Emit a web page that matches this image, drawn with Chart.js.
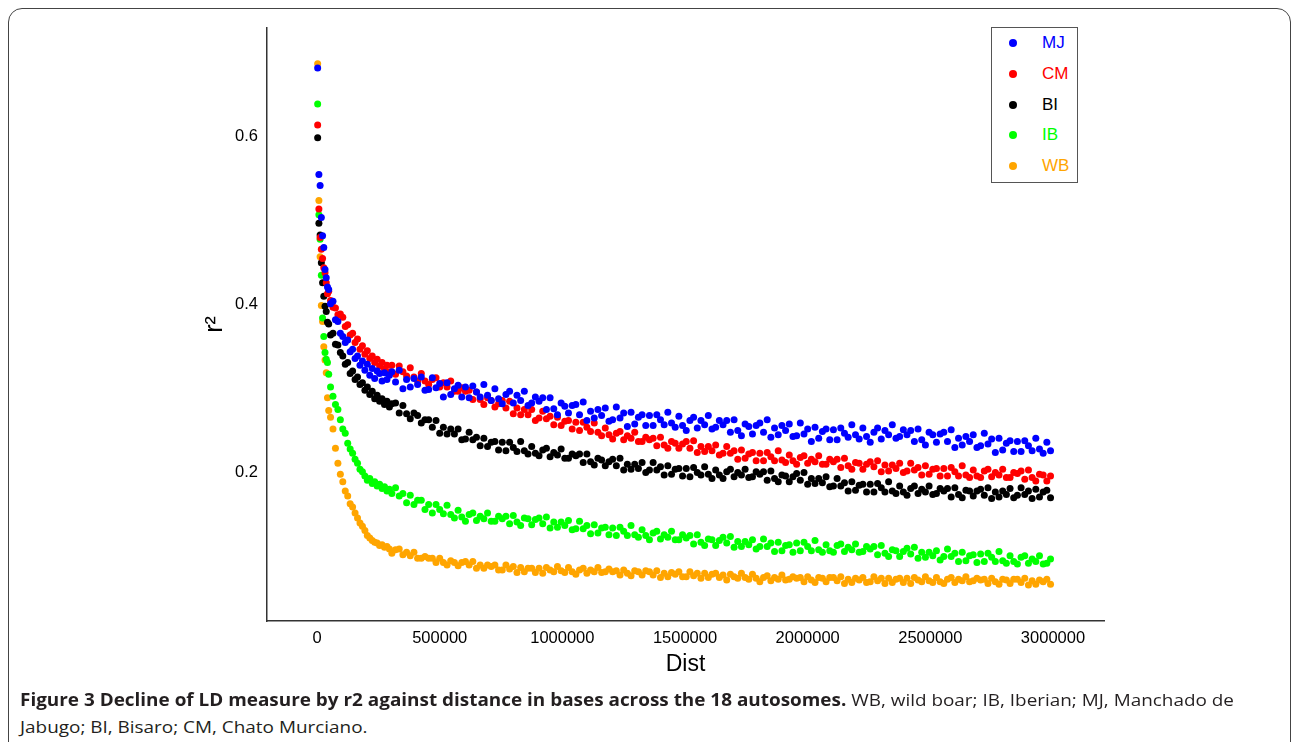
<!DOCTYPE html>
<html>
<head>
<meta charset="utf-8">
<title>Figure 3 - LD decay</title>
<script src="https://cdn.jsdelivr.net/npm/chart.js@4.4.1/dist/chart.umd.min.js"></script>
<style>
  html, body { margin: 0; padding: 0; background: #fff; }
  body { width: 1292px; height: 742px; position: relative; overflow: hidden; }
  #frame { position: absolute; left: 8px; top: 8px; width: 1283px; height: 790px;
           border: 1.5px solid #444; border-radius: 14px; box-sizing: border-box; }
  #plot { position: absolute; left: 0; top: 0; }
  #legend { position: absolute; left: 991px; top: 27px; width: 87px; height: 156px;
            border: 1.5px solid #555; box-sizing: border-box; background: #fff; }
  #legend .item { position: absolute; left: 0; height: 20px; width: 84px; }
  #legend .dot { position: absolute; left: 17px; top: 6px; width: 8px; height: 8px; border-radius: 50%; }
  #legend .lab { position: absolute; left: 50px; top: 0; line-height: 20px;
                 font: 17px "Liberation Sans", Arial, sans-serif; }
  .capline { position: absolute; left: 20px; white-space: nowrap; transform-origin: 0 0;
             font: 17px "Open Sans", sans-serif; color: #231f20; line-height: 26px; }
  .capline span { display: inline-block; }
</style>
</head>
<body>
<div id="frame"></div>
<canvas id="plot" width="1292" height="690"></canvas>
<div id="legend"></div>
<div class="capline" style="top:687px"><span id="cap1"><b>Figure 3 Decline of LD measure by r2 against distance in bases across the 18 autosomes.</b> WB, wild boar; IB, Iberian; MJ, Manchado de</span></div>
<div class="capline" style="top:714px"><span id="cap2">Jabugo; BI, Bisaro; CM, Chato Murciano.</span></div>
<script>
// Distancia en kb (bins)
const distKb = [
  2.5, 7.5, 12.5, 17.5, 22.5, 27.5, 32.5, 37.5, 42.5, 47.5,
  55, 65, 75, 85, 95, 105, 115, 125, 135, 145,
  155, 165, 175, 185, 195, 205, 215, 225, 235, 245,
  255, 265, 275, 285, 295,
  305, 320, 335, 350, 365, 380, 395, 410, 425, 440,
  455, 470, 485, 500, 515, 530, 545, 560, 575, 590,
  605, 620, 635, 650, 665, 680, 695, 710, 725, 740,
  755, 770, 785, 800, 815, 830, 845, 860, 875, 890,
  905, 920, 935, 950, 965, 980, 995, 1010, 1025, 1040,
  1055, 1070, 1085, 1100, 1115, 1130, 1145, 1160, 1175, 1190,
  1205, 1220, 1235, 1250, 1265, 1280, 1295, 1310, 1325, 1340,
  1355, 1370, 1385, 1400, 1415, 1430, 1445, 1460, 1475, 1490,
  1505, 1520, 1535, 1550, 1565, 1580, 1595, 1610, 1625, 1640,
  1655, 1670, 1685, 1700, 1715, 1730, 1745, 1760, 1775, 1790,
  1805, 1820, 1835, 1850, 1865, 1880, 1895, 1910, 1925, 1940,
  1955, 1970, 1985, 2000, 2015, 2030, 2045, 2060, 2075, 2090,
  2105, 2120, 2135, 2150, 2165, 2180, 2195, 2210, 2225, 2240,
  2255, 2270, 2285, 2300, 2315, 2330, 2345, 2360, 2375, 2390,
  2405, 2420, 2435, 2450, 2465, 2480, 2495, 2510, 2525, 2540,
  2555, 2570, 2585, 2600, 2615, 2630, 2645, 2660, 2675, 2690,
  2705, 2720, 2735, 2750, 2765, 2780, 2795, 2810, 2825, 2840,
  2855, 2870, 2885, 2900, 2915, 2930, 2945, 2960, 2975, 2990
];

// r2 por raza
const r2MJ = [
  0.682, 0.555, 0.542, 0.504, 0.482, 0.468, 0.442, 0.432, 0.421, 0.418,
  0.401, 0.404, 0.382, 0.380, 0.366, 0.362, 0.355, 0.358, 0.344, 0.347,
  0.336, 0.339, 0.328, 0.333, 0.322, 0.329, 0.316, 0.324, 0.312, 0.321,
  0.318, 0.309, 0.319, 0.311, 0.316,
  0.320, 0.308, 0.322, 0.300, 0.311, 0.302, 0.312, 0.305, 0.314, 0.298,
  0.299, 0.313, 0.301, 0.306, 0.290, 0.307, 0.293, 0.300, 0.304, 0.290,
  0.302, 0.289, 0.303, 0.296, 0.290, 0.305, 0.292, 0.286, 0.300, 0.288,
  0.282, 0.293, 0.297, 0.283, 0.292, 0.286, 0.297, 0.280, 0.283, 0.290,
  0.285, 0.289, 0.275, 0.289, 0.276, 0.269, 0.283, 0.279, 0.271, 0.280,
  0.281, 0.269, 0.284, 0.262, 0.273, 0.265, 0.275, 0.268, 0.277, 0.261,
  0.263, 0.278, 0.265, 0.271, 0.255, 0.272, 0.258, 0.266, 0.269, 0.256,
  0.268, 0.256, 0.269, 0.263, 0.257, 0.272, 0.259, 0.254, 0.267, 0.256,
  0.250, 0.262, 0.266, 0.253, 0.262, 0.257, 0.268, 0.252, 0.254, 0.262,
  0.257, 0.262, 0.248, 0.263, 0.250, 0.244, 0.258, 0.255, 0.246, 0.256,
  0.259, 0.248, 0.263, 0.242, 0.253, 0.245, 0.256, 0.250, 0.258, 0.243,
  0.244, 0.259, 0.246, 0.252, 0.237, 0.254, 0.241, 0.249, 0.252, 0.239,
  0.251, 0.239, 0.253, 0.247, 0.242, 0.257, 0.245, 0.240, 0.253, 0.243,
  0.236, 0.248, 0.253, 0.240, 0.250, 0.245, 0.257, 0.241, 0.243, 0.251,
  0.245, 0.250, 0.237, 0.252, 0.239, 0.233, 0.248, 0.245, 0.236, 0.246,
  0.248, 0.237, 0.251, 0.230, 0.241, 0.233, 0.243, 0.237, 0.245, 0.230,
  0.232, 0.247, 0.234, 0.240, 0.224, 0.241, 0.227, 0.235, 0.238, 0.225,
  0.237, 0.225, 0.238, 0.232, 0.226, 0.241, 0.228, 0.223, 0.236, 0.226
];
const r2CM = [
  0.614, 0.514, 0.480, 0.466, 0.455, 0.444, 0.438, 0.426, 0.413, 0.416,
  0.405, 0.397, 0.396, 0.388, 0.389, 0.385, 0.374, 0.376, 0.364, 0.366,
  0.355, 0.359, 0.347, 0.351, 0.341, 0.345, 0.336, 0.339, 0.331, 0.335,
  0.327, 0.331, 0.323, 0.328, 0.320,
  0.328, 0.317, 0.327, 0.320, 0.315, 0.325, 0.314, 0.309, 0.318, 0.309,
  0.305, 0.311, 0.313, 0.302, 0.307, 0.302, 0.309, 0.297, 0.297, 0.301,
  0.297, 0.298, 0.287, 0.296, 0.287, 0.281, 0.289, 0.286, 0.278, 0.282,
  0.286, 0.277, 0.285, 0.270, 0.277, 0.269, 0.275, 0.269, 0.275, 0.262,
  0.265, 0.273, 0.264, 0.267, 0.257, 0.266, 0.256, 0.261, 0.262, 0.252,
  0.260, 0.250, 0.260, 0.254, 0.249, 0.259, 0.248, 0.244, 0.253, 0.245,
  0.240, 0.247, 0.249, 0.239, 0.244, 0.241, 0.248, 0.237, 0.237, 0.242,
  0.239, 0.241, 0.232, 0.242, 0.233, 0.229, 0.237, 0.235, 0.229, 0.234,
  0.237, 0.229, 0.238, 0.224, 0.231, 0.225, 0.231, 0.226, 0.233, 0.221,
  0.223, 0.231, 0.223, 0.226, 0.216, 0.227, 0.217, 0.222, 0.224, 0.214,
  0.223, 0.214, 0.224, 0.219, 0.214, 0.226, 0.215, 0.212, 0.221, 0.214,
  0.210, 0.218, 0.220, 0.211, 0.216, 0.213, 0.220, 0.210, 0.210, 0.216,
  0.213, 0.216, 0.206, 0.217, 0.208, 0.204, 0.212, 0.211, 0.204, 0.210,
  0.213, 0.207, 0.214, 0.201, 0.209, 0.202, 0.209, 0.205, 0.211, 0.200,
  0.202, 0.211, 0.203, 0.206, 0.197, 0.208, 0.198, 0.204, 0.205, 0.196,
  0.205, 0.196, 0.206, 0.201, 0.196, 0.208, 0.197, 0.194, 0.203, 0.196,
  0.194, 0.202, 0.204, 0.195, 0.200, 0.197, 0.204, 0.194, 0.194, 0.200,
  0.199, 0.202, 0.192, 0.203, 0.194, 0.190, 0.198, 0.197, 0.190, 0.196
];
const r2BI = [
  0.599, 0.497, 0.483, 0.450, 0.426, 0.410, 0.398, 0.392, 0.379, 0.377,
  0.364, 0.366, 0.353, 0.352, 0.343, 0.339, 0.329, 0.331, 0.318, 0.321,
  0.311, 0.314, 0.305, 0.307, 0.298, 0.302, 0.293, 0.297, 0.288, 0.292,
  0.285, 0.288, 0.281, 0.285, 0.278,
  0.282, 0.283, 0.271, 0.280, 0.270, 0.264, 0.271, 0.268, 0.259, 0.263,
  0.263, 0.254, 0.262, 0.247, 0.254, 0.246, 0.252, 0.246, 0.252, 0.239,
  0.240, 0.248, 0.239, 0.242, 0.232, 0.241, 0.231, 0.236, 0.237, 0.227,
  0.236, 0.226, 0.236, 0.230, 0.225, 0.237, 0.226, 0.222, 0.231, 0.223,
  0.220, 0.227, 0.229, 0.219, 0.224, 0.221, 0.228, 0.217, 0.217, 0.222,
  0.220, 0.222, 0.212, 0.222, 0.213, 0.209, 0.217, 0.215, 0.208, 0.213,
  0.216, 0.208, 0.217, 0.203, 0.210, 0.204, 0.210, 0.205, 0.212, 0.200,
  0.203, 0.212, 0.203, 0.207, 0.197, 0.208, 0.198, 0.204, 0.205, 0.196,
  0.205, 0.195, 0.206, 0.200, 0.197, 0.207, 0.198, 0.193, 0.203, 0.197,
  0.193, 0.201, 0.204, 0.195, 0.200, 0.197, 0.204, 0.194, 0.195, 0.201,
  0.198, 0.201, 0.191, 0.202, 0.193, 0.189, 0.197, 0.196, 0.189, 0.195,
  0.199, 0.191, 0.200, 0.186, 0.193, 0.187, 0.193, 0.188, 0.195, 0.183,
  0.184, 0.193, 0.184, 0.188, 0.178, 0.189, 0.179, 0.185, 0.186, 0.177,
  0.186, 0.177, 0.187, 0.182, 0.177, 0.189, 0.178, 0.175, 0.184, 0.177,
  0.173, 0.181, 0.184, 0.175, 0.180, 0.177, 0.184, 0.174, 0.175, 0.181,
  0.178, 0.181, 0.171, 0.182, 0.174, 0.170, 0.179, 0.178, 0.172, 0.178,
  0.180, 0.173, 0.182, 0.169, 0.177, 0.171, 0.178, 0.174, 0.181, 0.170,
  0.173, 0.182, 0.174, 0.178, 0.169, 0.180, 0.171, 0.177, 0.179, 0.170
];
const r2IB = [
  0.639, 0.507, 0.478, 0.435, 0.384, 0.362, 0.343, 0.335, 0.331, 0.317,
  0.302, 0.291, 0.281, 0.275, 0.263, 0.252, 0.247, 0.235, 0.228, 0.223,
  0.216, 0.211, 0.204, 0.201, 0.196, 0.191, 0.193, 0.187, 0.189, 0.184,
  0.186, 0.181, 0.183, 0.178, 0.180,
  0.175, 0.182, 0.172, 0.175, 0.164, 0.173, 0.162, 0.167, 0.167, 0.156,
  0.162, 0.152, 0.162, 0.156, 0.151, 0.161, 0.150, 0.146, 0.155, 0.147,
  0.142, 0.150, 0.152, 0.143, 0.148, 0.145, 0.152, 0.142, 0.142, 0.148,
  0.145, 0.148, 0.139, 0.149, 0.141, 0.137, 0.146, 0.145, 0.138, 0.144,
  0.146, 0.139, 0.147, 0.134, 0.141, 0.135, 0.141, 0.137, 0.143, 0.132,
  0.133, 0.142, 0.133, 0.137, 0.127, 0.138, 0.128, 0.134, 0.135, 0.126,
  0.134, 0.125, 0.135, 0.130, 0.125, 0.137, 0.126, 0.123, 0.132, 0.125,
  0.120, 0.128, 0.130, 0.121, 0.126, 0.123, 0.130, 0.120, 0.120, 0.126,
  0.122, 0.125, 0.115, 0.126, 0.117, 0.113, 0.121, 0.120, 0.113, 0.119,
  0.123, 0.116, 0.124, 0.111, 0.118, 0.112, 0.118, 0.114, 0.120, 0.109,
  0.112, 0.121, 0.112, 0.116, 0.106, 0.117, 0.107, 0.113, 0.114, 0.105,
  0.116, 0.107, 0.117, 0.112, 0.107, 0.119, 0.108, 0.105, 0.114, 0.107,
  0.105, 0.113, 0.115, 0.106, 0.111, 0.108, 0.115, 0.105, 0.106, 0.112,
  0.109, 0.112, 0.102, 0.113, 0.104, 0.100, 0.108, 0.107, 0.100, 0.106,
  0.110, 0.103, 0.111, 0.098, 0.105, 0.099, 0.105, 0.101, 0.107, 0.096,
  0.100, 0.109, 0.100, 0.104, 0.094, 0.105, 0.095, 0.101, 0.102, 0.093,
  0.103, 0.094, 0.104, 0.099, 0.094, 0.106, 0.095, 0.092, 0.101, 0.094,
  0.091, 0.099, 0.101, 0.092, 0.097, 0.094, 0.101, 0.091, 0.092, 0.097
];
const r2WB = [
  0.687, 0.524, 0.457, 0.399, 0.380, 0.350, 0.334, 0.319, 0.289, 0.274,
  0.266, 0.252, 0.229, 0.211, 0.198, 0.189, 0.178, 0.172, 0.163, 0.159,
  0.152, 0.146, 0.140, 0.136, 0.131, 0.125, 0.122, 0.119, 0.117, 0.116,
  0.113, 0.114, 0.111, 0.112, 0.109,
  0.104, 0.108, 0.109, 0.102, 0.105, 0.101, 0.105, 0.098, 0.098, 0.100,
  0.098, 0.098, 0.093, 0.098, 0.093, 0.090, 0.095, 0.093, 0.089, 0.093,
  0.094, 0.090, 0.094, 0.086, 0.090, 0.086, 0.090, 0.088, 0.090, 0.084,
  0.084, 0.090, 0.085, 0.088, 0.081, 0.087, 0.082, 0.086, 0.086, 0.081,
  0.086, 0.080, 0.087, 0.084, 0.082, 0.088, 0.083, 0.081, 0.087, 0.082,
  0.079, 0.084, 0.086, 0.080, 0.084, 0.082, 0.087, 0.081, 0.082, 0.085,
  0.082, 0.083, 0.078, 0.084, 0.080, 0.077, 0.083, 0.082, 0.078, 0.083,
  0.082, 0.078, 0.083, 0.075, 0.080, 0.076, 0.081, 0.079, 0.082, 0.076,
  0.076, 0.082, 0.077, 0.080, 0.074, 0.080, 0.075, 0.079, 0.080, 0.075,
  0.078, 0.072, 0.079, 0.076, 0.074, 0.080, 0.075, 0.073, 0.079, 0.074,
  0.070, 0.075, 0.077, 0.071, 0.075, 0.073, 0.078, 0.072, 0.073, 0.076,
  0.074, 0.075, 0.070, 0.076, 0.072, 0.069, 0.075, 0.074, 0.070, 0.075,
  0.075, 0.071, 0.076, 0.068, 0.073, 0.069, 0.074, 0.072, 0.075, 0.069,
  0.070, 0.076, 0.071, 0.074, 0.068, 0.074, 0.069, 0.073, 0.074, 0.069,
  0.074, 0.068, 0.075, 0.072, 0.070, 0.076, 0.071, 0.069, 0.075, 0.070,
  0.068, 0.073, 0.075, 0.069, 0.073, 0.071, 0.076, 0.070, 0.071, 0.074,
  0.072, 0.073, 0.068, 0.074, 0.070, 0.067, 0.073, 0.072, 0.068, 0.073,
  0.073, 0.069, 0.074, 0.066, 0.071, 0.067, 0.072, 0.070, 0.073, 0.067
];

const seriesNames = ['MJ', 'CM', 'BI', 'IB', 'WB'];
const seriesColors = ['#0000ff', '#ff0000', '#000000', '#00ff00', '#ffa500'];
const seriesValues = [r2MJ, r2CM, r2BI, r2IB, r2WB];

// Ticks de los ejes
const xTicks = [0, 500000, 1000000, 1500000, 2000000, 2500000, 3000000];
const yTicks = [0.2, 0.4, 0.6];

const tickFont = { family: '"Liberation Sans", Arial, sans-serif', size: 16.5 };
const titleFont = { family: '"Liberation Sans", Arial, sans-serif', size: 23 };

const datasets = seriesNames.map((name, i) => ({
    label: name,
    data: distKb.map((d, j) => ({ x: d * 1000, y: seriesValues[i][j] })),
    backgroundColor: seriesColors[i],
    borderColor: seriesColors[i],
    borderWidth: 0,
    pointRadius: 3.5,
    pointHoverRadius: 3.5
}));

const ctx = document.getElementById('plot').getContext('2d');
new Chart(ctx, {
    type: 'scatter',
    data: { datasets: datasets },
    options: {
        responsive: false,
        animation: false,
        layout: { padding: { left: 0, right: 188, top: 28, bottom: 9 } },
        plugins: {
            legend: { display: false },
            tooltip: { enabled: false }
        },
        scales: {
            x: {
                type: 'linear',
                min: -204000,
                max: 3208000,
                afterBuildTicks: s => { s.ticks = xTicks.map(v => ({ value: v })); },
                afterFit: s => { s.height = 60; },
                grid: { display: false, drawTicks: false },
                border: { display: true, color: '#333', width: 1.5 },
                ticks: {
                    padding: 8, color: '#000', font: tickFont,
                    maxRotation: 0, autoSkip: false,
                    callback: v => String(v)
                },
                title: { display: true, text: 'Dist', color: '#000', font: titleFont,
                         padding: { top: 0, bottom: 3 } }
            },
            y: {
                type: 'linear',
                min: 0.0232,
                max: 0.7296,
                afterBuildTicks: s => { s.ticks = yTicks.map(v => ({ value: v })); },
                afterFit: s => { s.width = 267; },
                grid: { display: false, drawTicks: false },
                border: { display: true, color: '#333', width: 1.5 },
                ticks: {
                    padding: 9, color: '#000', font: tickFont,
                    callback: v => v.toFixed(1)
                },
                title: { display: true, text: 'r²', color: '#000',
                         font: { family: titleFont.family, size: 25 },
                         padding: { top: 200, bottom: 0 } }
            }
        }
    }
});

// Leyenda dentro del área del gráfico
const legend = document.getElementById('legend');
seriesNames.forEach((name, i) => {
    const row = document.createElement('div');
    row.className = 'item';
    row.style.top = (5 + i * 30.8) + 'px';
    row.innerHTML = `<span class="dot" style="background:${seriesColors[i]}"></span>` +
                    `<span class="lab" style="color:${seriesColors[i]}">${name}</span>`;
    legend.appendChild(row);
});

// Ajustar el ancho del pie de figura
const cap1 = document.getElementById('cap1');
const k = 1214 / cap1.getBoundingClientRect().width;
document.querySelectorAll('.capline').forEach(l => { l.style.transform = `scaleX(${k})`; });
</script>
</body>
</html>
